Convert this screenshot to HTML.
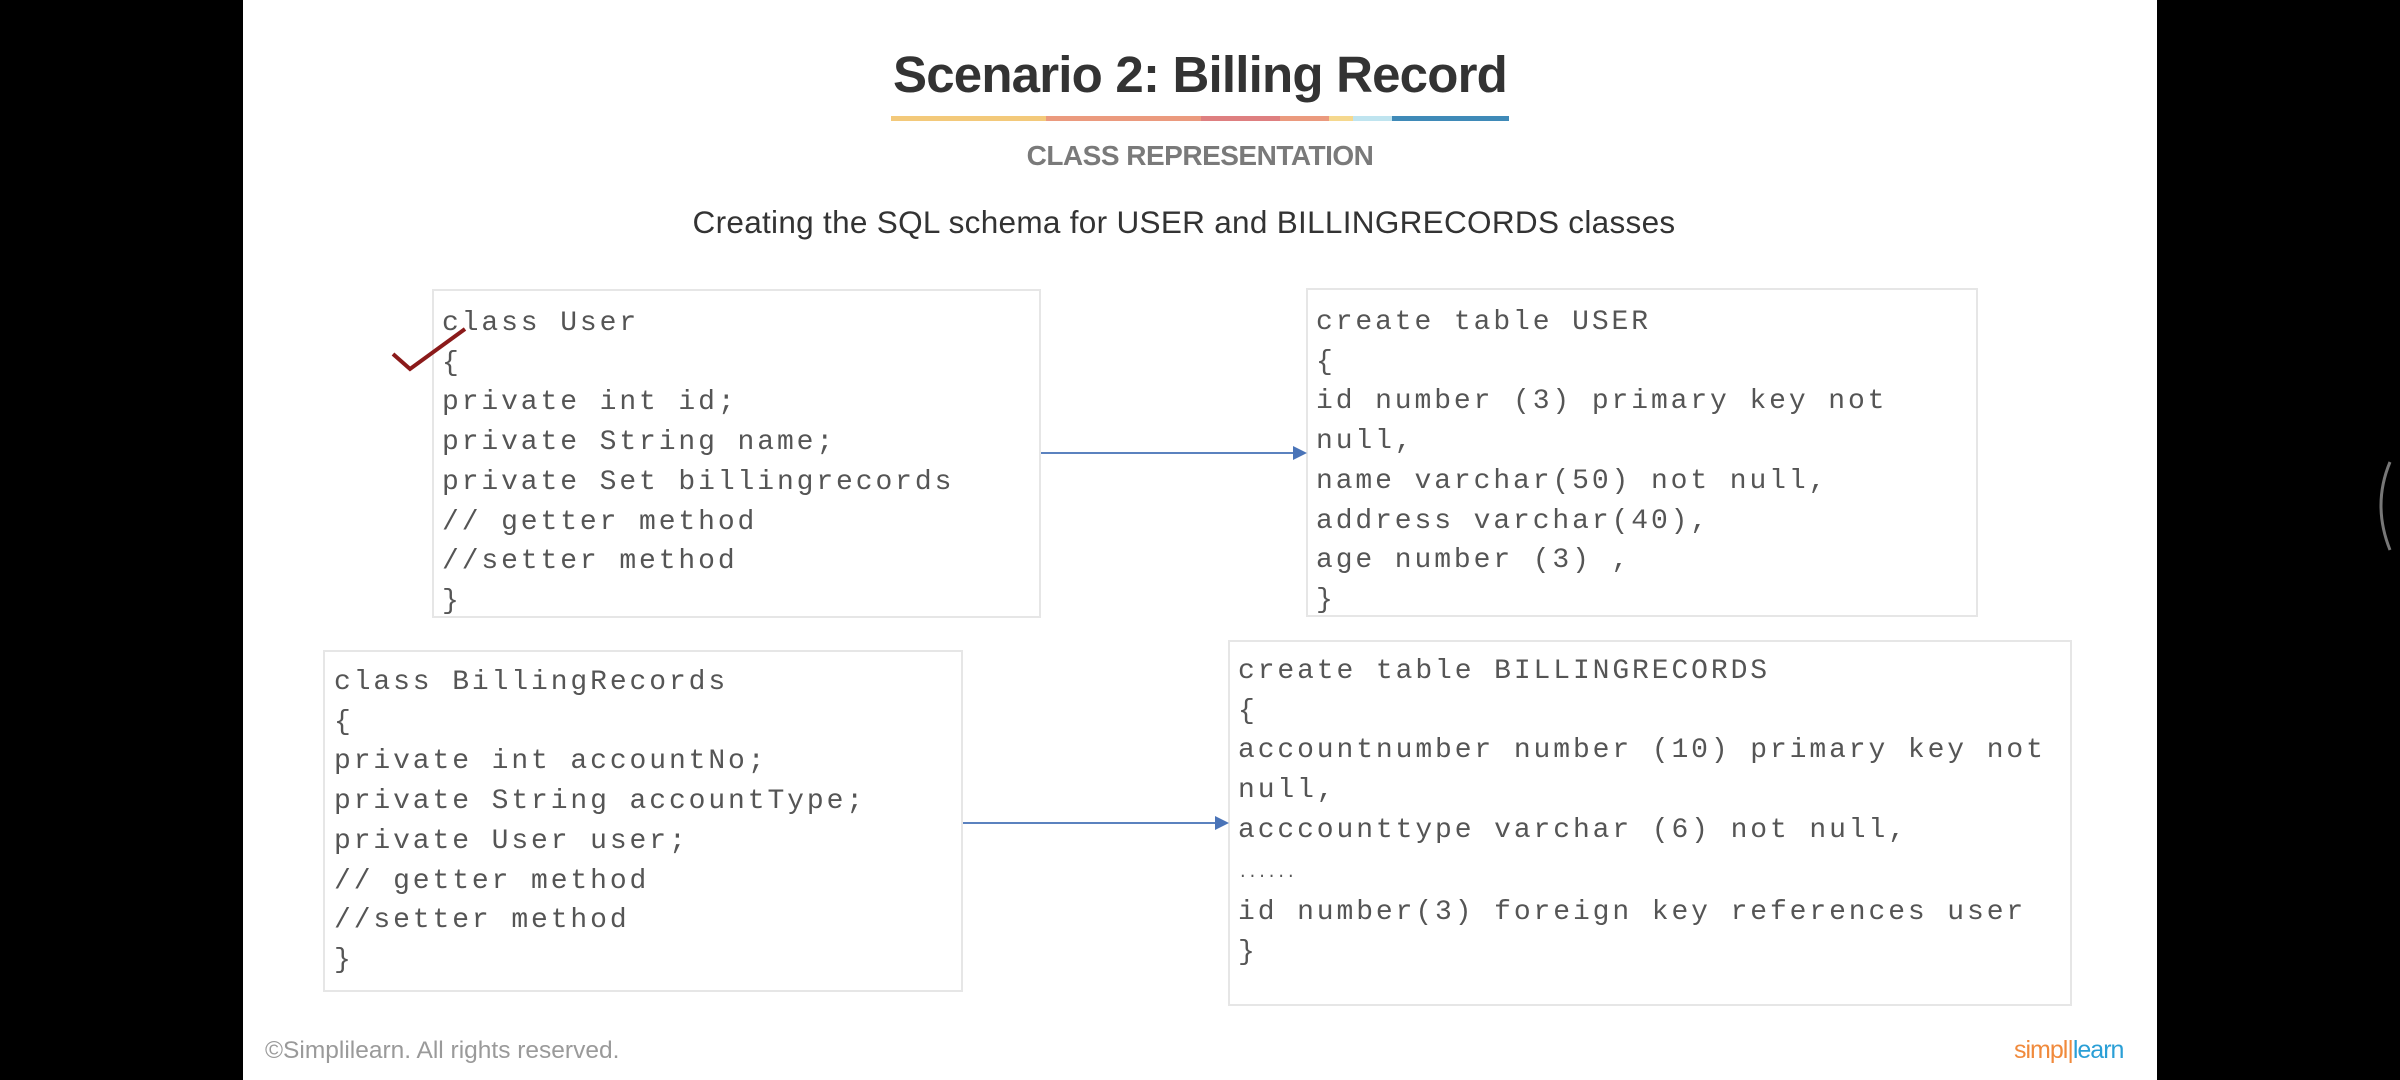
<!DOCTYPE html>
<html><head><meta charset="utf-8"><style>
*{margin:0;padding:0;box-sizing:border-box}
body{width:2400px;height:1080px;background:#000;position:relative;overflow:hidden;font-family:"Liberation Sans",sans-serif}
.slide{position:absolute;left:243px;top:0;width:1914px;height:1080px;background:#fff}
.abs{position:absolute}
.box{position:absolute;border:2px solid #e6e6e6;background:#fff}
.code{position:absolute;font-family:"Liberation Mono",monospace;font-size:28px;letter-spacing:2.9px;line-height:39.7px;color:#555;white-space:pre}
</style></head><body>
<div class="slide"></div>
<div class="abs" style="left:700px;top:45px;width:1000px;text-align:center;font-size:51px;font-weight:bold;color:#333;letter-spacing:-0.8px;line-height:60px">Scenario 2: Billing Record</div>
<div class="abs" style="left:891px;top:116px;height:5px;width:618px;background:linear-gradient(90deg,#f3c97a 0 155px,#eb9a7e 155px 310px,#de7f80 310px 389px,#eb9a7e 389px 438px,#f5d88e 438px 462px,#bfe4ef 462px 501px,#3f8ab8 501px 618px)"></div>
<div class="abs" style="left:900px;top:139px;width:600px;text-align:center;font-size:28px;font-weight:bold;color:#7a7a7a;line-height:34px;letter-spacing:-0.5px">CLASS REPRESENTATION</div>
<div class="abs" style="left:584px;top:202px;width:1200px;text-align:center;font-size:31.5px;color:#333;line-height:40px;letter-spacing:0.3px">Creating the SQL schema for USER and BILLINGRECORDS classes</div>

<div class="box" style="left:432px;top:289px;width:609px;height:329px"></div>
<div class="box" style="left:1306px;top:288px;width:672px;height:329px"></div>
<div class="box" style="left:323px;top:650px;width:640px;height:342px"></div>
<div class="box" style="left:1228px;top:640px;width:844px;height:366px"></div>

<div class="code" style="left:442px;top:304px">class User
{
private int id;
private String name;
private Set billingrecords
// getter method
//setter method
}</div>
<div class="code" style="left:1316px;top:303px">create table USER
{
id number (3) primary key not
null,
name varchar(50) not null,
address varchar(40),
age number (3) ,
}</div>
<div class="code" style="left:334px;top:663px">class BillingRecords
{
private int accountNo;
private String accountType;
private User user;
// getter method
//setter method
}</div>
<div class="code" style="left:1238px;top:652px">create table BILLINGRECORDS
{
accountnumber number (10) primary key not
null,
acccounttype varchar (6) not null,
<span style="font-size:16px;letter-spacing:0">......</span>
id number(3) foreign key references user
}</div>

<svg class="abs" style="left:0;top:0" width="2400" height="1080">
<g stroke="#5b82bf" stroke-width="2" fill="#4a74b8">
<line x1="1041" y1="453" x2="1294" y2="453"/>
<polygon points="1293,446 1307,453 1293,460" stroke="none"/>
<line x1="963" y1="823" x2="1216" y2="823"/>
<polygon points="1215,816 1229,823 1215,830" stroke="none"/>
</g>
<polyline points="393,354 410,369 465,329" fill="none" stroke="#8b1a1a" stroke-width="4"/>
<path d="M2390,462 Q2372,505 2390,550" fill="none" stroke="#777" stroke-width="3"/>
</svg>

<div class="abs" style="left:265px;top:1036px;font-size:24.5px;color:#9a9a9a;line-height:30px">©Simplilearn. All rights reserved.</div>
<div class="abs" style="left:2014px;top:1035px;font-size:25px;line-height:30px;letter-spacing:-1px"><span style="color:#f08a3c">simpl</span><span style="color:#f08a3c">|</span><span style="color:#2a9fd6">learn</span></div>
</body></html>
